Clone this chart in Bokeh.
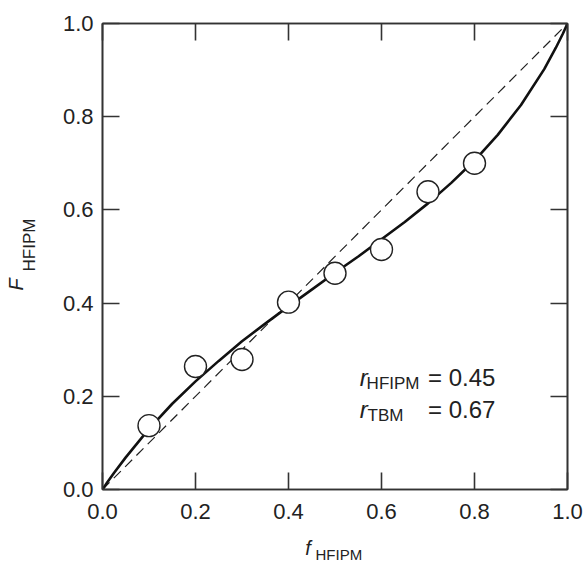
import math
from bokeh.plotting import figure
from bokeh.models import FixedTicker, LinearAxis, Label, Range1d, PrintfTickFormatter
from bokeh.embed import file_html
from bokeh.resources import INLINE

# experimental points
f_exp = [0.1, 0.2, 0.3, 0.4, 0.5, 0.6, 0.7, 0.8]
F_exp = [0.137, 0.264, 0.279, 0.402, 0.464, 0.515, 0.639, 0.700]

# fitted copolymer composition curve
f_fit = [0.0, 0.01, 0.025, 0.05, 0.1, 0.15, 0.2, 0.25, 0.3, 0.35, 0.4, 0.45, 0.5,
         0.55, 0.6, 0.65, 0.7, 0.75, 0.8, 0.85, 0.9, 0.95, 0.975, 0.99, 1.0]
F_fit = [0.0, 0.015, 0.036, 0.069, 0.130, 0.184, 0.232, 0.276, 0.318, 0.356, 0.393, 0.429, 0.465,
         0.500, 0.537, 0.574, 0.614, 0.658, 0.706, 0.761, 0.825, 0.902, 0.948, 0.978, 1.0]

# reference diagonal
diag_x = [0.0, 1.0]
diag_y = [0.0, 1.0]

ticks = [0.0, 0.2, 0.4, 0.6, 0.8, 1.0]

FONT = "Liberation Sans"
AX = "#333333"

p = figure(width=587, height=567, x_range=Range1d(0, 1), y_range=Range1d(0, 1),
           output_backend="svg", toolbar_location=None,
           min_border_left=102, min_border_right=20, min_border_top=23, min_border_bottom=78)
p.xgrid.visible = False
p.ygrid.visible = False
p.outline_line_color = AX
p.outline_line_width = 1.6
p.background_fill_color = "white"
p.border_fill_color = "white"

for ax in [p.xaxis[0], p.yaxis[0]]:
    ax.ticker = FixedTicker(ticks=ticks)
    ax.formatter = PrintfTickFormatter(format="%.1f")
    ax.major_tick_in = 17
    ax.major_tick_out = 0
    ax.minor_tick_in = 0
    ax.minor_tick_out = 0
    ax.axis_line_color = AX
    ax.axis_line_width = 1.6
    ax.major_tick_line_color = AX
    ax.major_tick_line_width = 1.6
    ax.major_label_text_font = FONT
    ax.major_label_text_font_size = "22px"
    ax.major_label_text_color = "#222222"
    ax.axis_label = None
p.xaxis[0].major_label_standoff = 14
p.yaxis[0].major_label_standoff = 9

for loc in ["above", "right"]:
    a = LinearAxis(ticker=FixedTicker(ticks=ticks), major_tick_in=17, major_tick_out=0,
                   minor_tick_in=0, minor_tick_out=0, axis_line_color=AX, axis_line_width=1.6,
                   major_tick_line_color=AX, major_tick_line_width=1.6,
                   major_label_text_color=None, major_label_text_font_size="1px",
                   major_label_standoff=0)
    p.add_layout(a, loc)

p.line(diag_x, diag_y, line_color="#222222", line_width=1.2, line_dash="10 6")
p.line(f_fit, F_fit, line_color="#111111", line_width=2.6)
p.scatter(f_exp, F_exp, marker="circle", size=22, fill_color="white",
          line_color="#222222", line_width=1.4)

def lab(x, y, text, size, italic=False, align="left", angle=0.0, place=None):
    l = Label(x=x, y=y, text=text, text_font=FONT, text_font_size=size,
              text_font_style="italic" if italic else "normal",
              text_color="#222222", text_align=align,
              text_baseline="alphabetic", angle=angle)
    if place is None:
        p.add_layout(l)
    else:
        p.add_layout(l, place)

# annotation block
lab(0.553, 0.240, "r", "24px", italic=True)
lab(0.568, 0.227, "HFIPM", "17px")
lab(0.845, 0.240, "= 0.45", "24px", align="right")
lab(0.553, 0.171, "r", "24px", italic=True)
lab(0.570, 0.158, "TBM", "17px")
lab(0.845, 0.171, "= 0.67", "24px", align="right")

# axis titles (placed in side panels so they are not clipped to the frame)
lab(0.436, -0.125, "f", "20px", italic=True, place="below")
lab(0.458, -0.140, "HFIPM", "15px", place="above")
lab(-0.185, 0.427, "F", "20px", italic=True, angle=math.pi / 2, place="left")
lab(-0.158, 0.468, "HFIPM", "17px", angle=math.pi / 2, place="left")

open("out.html", "w").write(file_html(p, INLINE))
